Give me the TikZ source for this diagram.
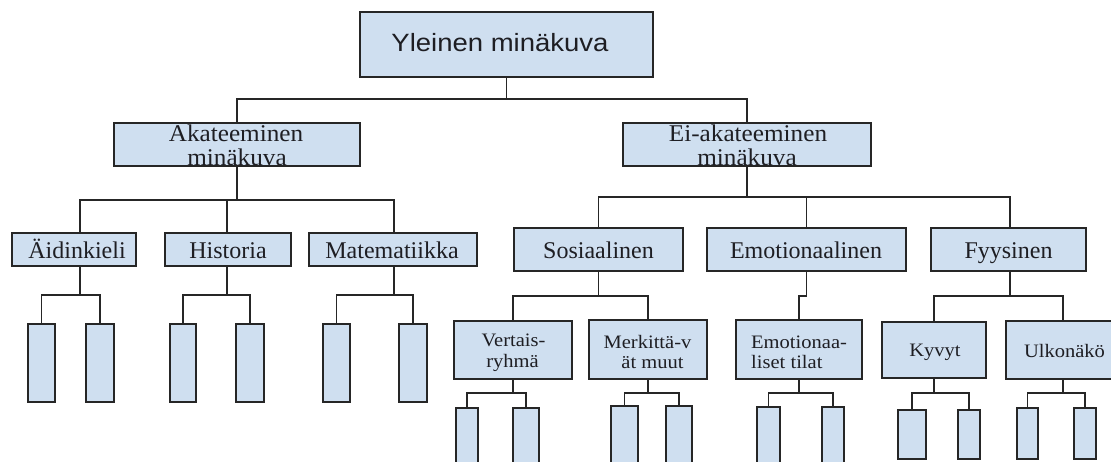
\documentclass[tikz,border=0pt]{standalone}
\usepackage{fontspec}
\newfontfamily\tnr{Liberation Serif}
\newfontfamily\tnrw[FakeStretch=1.05]{Liberation Serif}
\newfontfamily\tnrs[FakeStretch=1.08]{Liberation Serif}
\newfontfamily\arl[FakeStretch=1.1]{Liberation Sans}
\definecolor{boxblue}{RGB}{207,223,240}
\definecolor{edgec}{RGB}{38,38,38}
\definecolor{txt}{RGB}{30,30,35}
\begin{document}
\begin{tikzpicture}[x=1pt,y=-1pt,
  box/.style={draw=edgec,fill=boxblue,line width=1.7pt,inner sep=0pt,outer sep=0pt},
  conn/.style={draw=edgec,line width=1.7pt},
  ttop/.style={font=\arl\fontsize{25}{30}\selectfont,text=txt,inner sep=0pt,anchor=base},
  tlv2/.style={font=\tnrw\fontsize{24}{28}\selectfont,text=txt,inner sep=0pt,anchor=base},
  tlv3/.style={font=\tnr\fontsize{24}{28}\selectfont,text=txt,inner sep=0pt,anchor=base},
  tlv4/.style={font=\tnrs\fontsize{19}{23}\selectfont,text=txt,inner sep=0pt,anchor=base}
]
\useasboundingbox (0,0) rectangle (1111,461);
\clip (0,0) rectangle (1111,461);
\fill[white] (0,0) rectangle (1111,461);

% junction levels
\coordinate (y1) at (0,99);
\coordinate (y2) at (0,200);
\coordinate (y3) at (0,295);
\coordinate (y4) at (0,197);
\coordinate (y5) at (0,296);
\coordinate (y6) at (0,393);

% level 1
\node[box,minimum width=293pt,minimum height=65pt] (top) at (506.5,44.5) {};
\node[ttop] (topT) at (500,51) {Yleinen minäkuva};

% level 2
\node[box,minimum width=246pt,minimum height=43pt] (aka) at (237,144.5) {};
\node[box,minimum width=248pt,minimum height=43pt] (ei) at (747,144.5) {};

% level 3 left
\node[box,minimum width=124pt,minimum height=33pt] (aid) at (74,249.5) {};
\node[box,minimum width=126pt,minimum height=33pt] (his) at (228,249.5) {};
\node[box,minimum width=168pt,minimum height=33pt] (mat) at (393,249.5) {};

% level 3 right
\node[box,minimum width=169pt,minimum height=43pt] (sos) at (598.5,249.5) {};
\node[box,minimum width=199pt,minimum height=43pt] (emo) at (806.5,249.5) {};
\node[box,minimum width=155pt,minimum height=43pt] (fyy) at (1008.5,249.5) {};

% level 4
\node[box,minimum width=118pt,minimum height=58pt] (ver) at (513,350) {};
\node[box,minimum width=118pt,minimum height=59pt] (mer) at (648,349.5) {};
\node[box,minimum width=126pt,minimum height=59pt] (emt) at (799,349.5) {};
\node[box,minimum width=104pt,minimum height=56pt] (kyv) at (934,350) {};
\node[box,minimum width=114pt,minimum height=58pt] (ulk) at (1063,350) {};

% leaves under level 3 left
\node[box,minimum width=27pt,minimum height=78pt] (a1) at (41.5,363) {};
\node[box,minimum width=28pt,minimum height=78pt] (a2) at (100,363) {};
\node[box,minimum width=26pt,minimum height=78pt] (h1) at (183,363) {};
\node[box,minimum width=28pt,minimum height=78pt] (h2) at (250,363) {};
\node[box,minimum width=27pt,minimum height=78pt] (m1) at (336.5,363) {};
\node[box,minimum width=28pt,minimum height=78pt] (m2) at (413,363) {};

% leaves under level 4
\node[box,minimum width=22pt,minimum height=72pt] (v1) at (467,444) {};
\node[box,minimum width=26pt,minimum height=72pt] (v2) at (526,444) {};
\node[box,minimum width=27pt,minimum height=74pt] (r1) at (624.5,443) {};
\node[box,minimum width=26pt,minimum height=74pt] (r2) at (679,443) {};
\node[box,minimum width=23pt,minimum height=73pt] (e1) at (768.5,443.5) {};
\node[box,minimum width=22pt,minimum height=73pt] (e2) at (833,443.5) {};
\node[box,minimum width=28pt,minimum height=49pt] (k1) at (912,434.5) {};
\node[box,minimum width=22pt,minimum height=49pt] (k2) at (969,434.5) {};
\node[box,minimum width=21pt,minimum height=51pt] (u1) at (1027.5,433.5) {};
\node[box,minimum width=22pt,minimum height=51pt] (u2) at (1085,433.5) {};

% texts
\node[tlv2] (akaA) at (236,141) {Akateeminen};
\node[tlv2] (akaB) at (237,165) {minäkuva};
\node[tlv2] (eiA) at (748,141) {Ei-akateeminen};
\node[tlv2] (eiB) at (747,165) {minäkuva};
\node[tlv3] (aidT) at (77,258) {Äidinkieli};
\node[tlv3] (hisT) at (228,258) {Historia};
\node[tlv3] (matT) at (392,258) {Matematiikka};
\node[tlv3] (sosT) at (598.5,258) {Sosiaalinen};
\node[tlv3] (emoT) at (806,258) {Emotionaalinen};
\node[tlv3] (fyyT) at (1008.5,258) {Fyysinen};
\node[tlv4] (verA) at (513.5,346) {Vertais-};
\node[tlv4] (verB) at (512.5,367) {ryhmä};
\node[tlv4] (merA) at (647.5,348) {Merkittä-v};
\node[tlv4] (merB) at (652.5,368) {ät muut};
\node[tlv4,anchor=base west] (emtA) at (751,348) {Emotionaa-};
\node[tlv4,anchor=base west] (emtB) at (751,368) {liset tilat};
\node[tlv4] (kyvT) at (935,356) {Kyvyt};
\node[tlv4] (ulkT) at (1064.5,357) {Ulkonäkö};

% connectors level 1 -> 2
\draw[conn] (top.south) -- (top.south |- y1);
\draw[conn] (aka.north) |- (top.south |- y1) -| (ei.north);

% level 2 -> 3 left
\draw[conn] (aka.south) -- (aka.south |- y2);
\draw[conn] ([xshift=6pt]aid.north) |- (aka.south |- y2) -| ([xshift=1pt]mat.north);
\draw[conn] ([xshift=-1pt]his.north) -- ([xshift=-1pt]his.north |- y2);

% level 2 -> 3 right
\draw[conn] (ei.south) -- (ei.south |- y4);
\draw[conn] (sos.north) |- (ei.south |- y4) -| ([xshift=1.5pt]fyy.north);
\draw[conn] (emo.north) -- (emo.north |- y4);

% level 3 left -> leaves
\draw[conn] ([xshift=6pt]aid.south) -- ([xshift=6pt]aid.south |- y3);
\draw[conn] (a1.north) |- ([xshift=6pt]aid.south |- y3) -| (a2.north);
\draw[conn] ([xshift=-1pt]his.south) -- ([xshift=-1pt]his.south |- y3);
\draw[conn] (h1.north) |- ([xshift=-1pt]his.south |- y3) -| (h2.north);
\draw[conn] ([xshift=1pt]mat.south) -- ([xshift=1pt]mat.south |- y3);
\draw[conn] (m1.north) |- ([xshift=1pt]mat.south |- y3) -| (m2.north);

% level 3 right -> 4
\draw[conn] (sos.south) -- (sos.south |- y5);
\draw[conn] (ver.north) |- (sos.south |- y5) -| (mer.north);
\draw[conn] (emo.south) -- (emo.south |- y5) -| (emt.north);
\draw[conn] ([xshift=1.5pt]fyy.south) -- ([xshift=1.5pt]fyy.south |- y5);
\draw[conn] (kyv.north) |- ([xshift=1.5pt]fyy.south |- y5) -| (ulk.north);

% level 4 -> leaves
\draw[conn] (ver.south) -- (ver.south |- y6);
\draw[conn] (v1.north) |- (ver.south |- y6) -| (v2.north);
\draw[conn] (mer.south) -- (mer.south |- y6);
\draw[conn] (r1.north) |- (mer.south |- y6) -| (r2.north);
\draw[conn] (emt.south) -- (emt.south |- y6);
\draw[conn] (e1.north) |- (emt.south |- y6) -| (e2.north);
\draw[conn] (kyv.south) -- (kyv.south |- y6);
\draw[conn] (k1.north) |- (kyv.south |- y6) -| (k2.north);
\draw[conn] (ulk.south) -- (ulk.south |- y6);
\draw[conn] (u1.north) |- (ulk.south |- y6) -| (u2.north);
\end{tikzpicture}
\end{document}
